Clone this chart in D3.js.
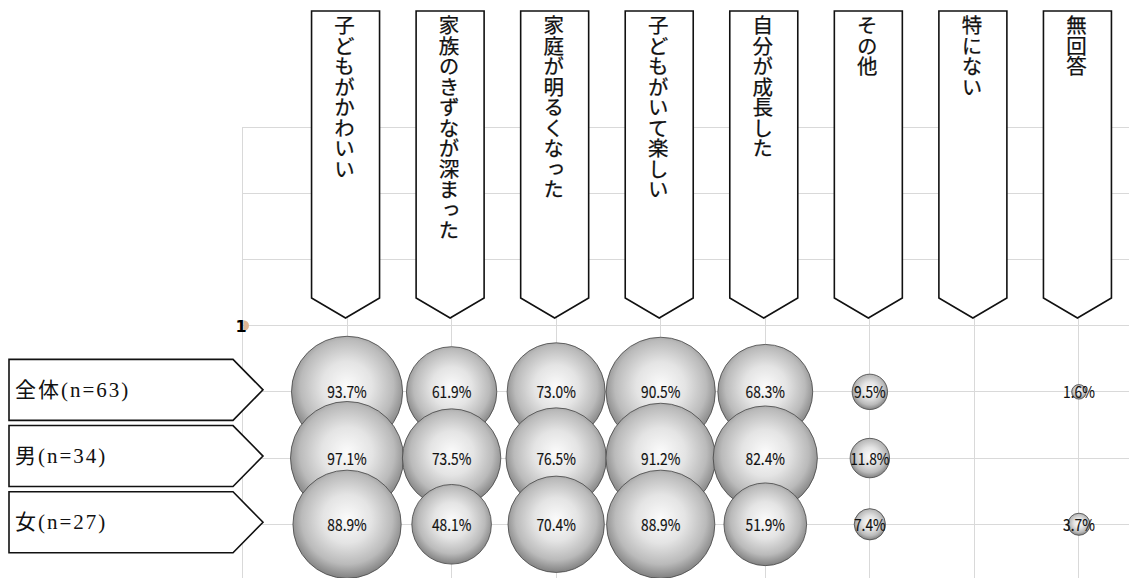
<!DOCTYPE html>
<html>
<head>
<meta charset="utf-8">
<script src="https://cdn.jsdelivr.net/npm/d3@7"></script>
<style>
  body { margin: 0; background: #fff; }
  svg { display: block; }
</style>
</head>
<body>
<svg id="chart" width="1129" height="578"></svg>
<script>
// Survey categories (column headers) and respondent groups (row labels)
const categories = [
  "子どもがかわいい",
  "家族のきずなが深まった",
  "家庭が明るくなった",
  "子どもがいて楽しい",
  "自分が成長した",
  "その他",
  "特にない",
  "無回答"
];
const groups = ["全体(n=63)", "男(n=34)", "女(n=27)"];

// Percentages per group, one per category
const valuesAll    = [93.7, 61.9, 73.0, 90.5, 68.3, 9.5, 0, 1.6];
const valuesMale   = [97.1, 73.5, 76.5, 91.2, 82.4, 11.8, 0, 0];
const valuesFemale = [88.9, 48.1, 70.4, 88.9, 51.9, 7.4, 0, 3.7];

// Row position of each group on the y axis, and grid ticks
const groupRows = [3, 2, 1];
const xGridTicks = [0, 1, 2, 3, 4, 5, 6, 7, 8];
const yGridTicks = [1, 2, 3, 4, 5, 6, 7];

const seriesValues = [valuesAll, valuesMale, valuesFemale];

const svg = d3.select("#chart");

const x = d3.scaleLinear().domain([0, 9]).range([242.5, 1183.5]);
const y = d3.scaleLinear().domain([0, 7]).range([590.5, 127]);
const r = d3.scaleSqrt().domain([0, 100]).range([0, 57.4]);

// Sphere-like shading for the bubbles
const defs = svg.append("defs");
const grad = defs.append("radialGradient")
  .attr("id", "ball")
  .attr("cx", "50%").attr("cy", "45%").attr("r", "56%");
grad.append("stop").attr("offset", "0%").attr("stop-color", "#fbfbfb");
grad.append("stop").attr("offset", "40%").attr("stop-color", "#e4e4e4");
grad.append("stop").attr("offset", "75%").attr("stop-color", "#bababa");
grad.append("stop").attr("offset", "100%").attr("stop-color", "#7c7c7c");

// Grid
const grid = svg.append("g").attr("stroke", "#d9d9d9").attr("stroke-width", 1).attr("shape-rendering", "crispEdges");
grid.selectAll("line.h").data(yGridTicks).join("line")
  .attr("class", "h")
  .attr("x1", x(0)).attr("x2", 1129)
  .attr("y1", d => y(d)).attr("y2", d => y(d));
grid.selectAll("line.v").data(xGridTicks).join("line")
  .attr("class", "v")
  .attr("x1", d => x(d)).attr("x2", d => x(d))
  .attr("y1", y(7)).attr("y2", 578);

// Small series marker near the plot corner
const marker = svg.append("g");
marker.append("path")
  .attr("d", d3.arc()({ innerRadius: 0, outerRadius: 5.5, startAngle: 0, endAngle: Math.PI }))
  .attr("transform", `translate(${x(0) + 1},${y(4)})`)
  .attr("fill", "#dfb594");
marker.append("text")
  .attr("x", x(0) - 1.5).attr("y", y(4) + 6)
  .attr("text-anchor", "middle")
  .attr("font-family", "'DejaVu Sans', sans-serif")
  .attr("font-weight", "bold")
  .attr("font-size", 16)
  .attr("fill", "#000")
  .text("1");

// Column header arrows
const headW = 34, headTop = 11, headBottom = 298, headTip = 318;
const heads = svg.append("g").selectAll("g").data(categories).join("g")
  .attr("transform", (d, i) => `translate(${x(i + 1) - 1.5},0)`);
heads.append("path")
  .attr("d", `M${-headW},${headTop}H${headW}V${headBottom}L0,${headTip}L${-headW},${headBottom}Z`)
  .attr("fill", "#fff")
  .attr("stroke", "#111")
  .attr("stroke-width", 1.6);
heads.append("text")
  .attr("x", -1).attr("y", 15)
  .style("writing-mode", "vertical-rl")
  .attr("font-family", "'Noto Sans CJK JP', sans-serif")
  .attr("font-size", 20.5)
  .attr("fill", "#111")
  .attr("stroke", "#111")
  .attr("stroke-width", 0.25)
  .text(d => d);

// Row label arrows
const rowLeft = 9, rowRight = 233, rowTip = 263, rowHalf = 30.5;
const rows = svg.append("g").selectAll("g").data(groups).join("g")
  .attr("transform", (d, i) => `translate(0,${y(groupRows[i]) - 2})`);
rows.append("path")
  .attr("d", `M${rowLeft},${-rowHalf}H${rowRight}L${rowTip},0L${rowRight},${rowHalf}H${rowLeft}Z`)
  .attr("fill", "#fff")
  .attr("stroke", "#111")
  .attr("stroke-width", 1.6);
rows.append("text")
  .attr("x", 15).attr("y", 7)
  .attr("font-family", "'Liberation Serif', 'Noto Sans CJK JP', serif")
  .attr("font-size", 21)
  .attr("letter-spacing", 2)
  .attr("fill", "#111")
  .text(d => d);

// Bubbles: later rows are drawn over earlier ones
const points = [];
seriesValues.forEach((vals, gi) => {
  vals.forEach((v, ci) => {
    if (v > 0) points.push({ g: gi, c: ci, v });
  });
});

svg.append("g").selectAll("circle").data(points).join("circle")
  .attr("cx", d => x(d.c + 1))
  .attr("cy", d => y(groupRows[d.g]))
  .attr("r", d => r(d.v))
  .attr("fill", "url(#ball)")
  .attr("stroke", "#444")
  .attr("stroke-width", 0.8);

// Value labels on top of all bubbles
svg.append("g").selectAll("text").data(points).join("text")
  .attr("transform", d => `translate(${x(d.c + 1)},${y(groupRows[d.g]) + 6.5}) scale(0.86,1)`)
  .attr("text-anchor", "middle")
  .attr("font-family", "'Noto Sans CJK JP', sans-serif")
  .attr("font-size", 16)
  .attr("fill", "#111")
  .attr("stroke", "#111")
  .attr("stroke-width", 0.15)
  .text(d => d.v.toFixed(1) + "%");
</script>
</body>
</html>
